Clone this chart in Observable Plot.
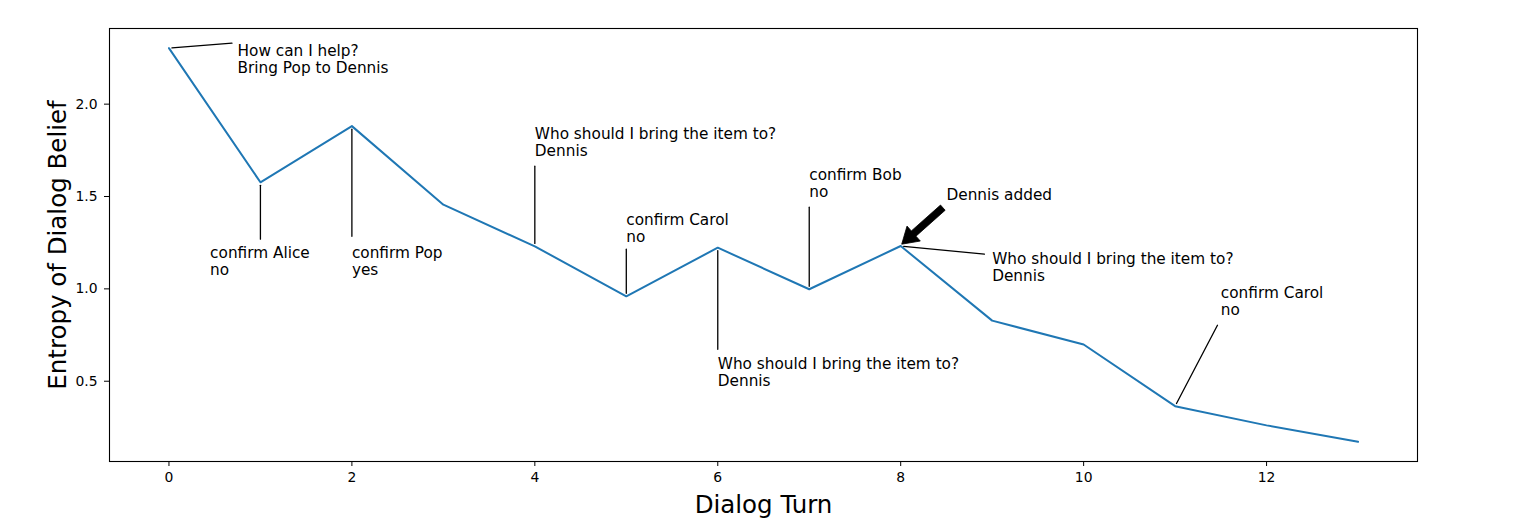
<!DOCTYPE html>
<html>
<head>
<meta charset="utf-8">
<script src="https://cdn.jsdelivr.net/npm/d3@7"></script>
<script src="https://cdn.jsdelivr.net/npm/@observablehq/plot@0.6"></script>
<style>
  html, body { margin: 0; padding: 0; background: #ffffff; }
  #chart { width: 1538px; height: 520px; }
  #chart svg g[aria-label*="axis"] text,
  #chart svg g[aria-label*="tick label"] text,
  #chart svg g[aria-label*="axis"],
  #chart svg g[aria-label*="tick label"] { font-size: 13.9px !important; }
</style>
</head>
<body>
<div id="chart"></div>
<script>
// ---- data ----
const turns   = [0, 1, 2, 3, 4, 5, 6, 7, 8, 9, 10, 11, 12, 13];
const entropy = [2.303, 1.577, 1.881, 1.456, 1.230, 0.960, 1.223, 0.998, 1.232, 0.828, 0.699, 0.365, 0.261, 0.172];

const xTicks = [0, 2, 4, 6, 8, 10, 12];
const yTicks = [0.5, 1.0, 1.5, 2.0];

const xTitle = "Dialog Turn";
const yTitle = "Entropy of Dialog Belief";

// annotations (text anchored at its top-left, in data units)
const noteTurn  = [0, 1, 2, 4, 5, 6, 7, 8, 11];
const noteText  = [
  "How can I help?\nBring Pop to Dennis",
  "confirm Alice\nno",
  "confirm Pop\nyes",
  "Who should I bring the item to?\nDennis",
  "confirm Carol\nno",
  "Who should I bring the item to?\nDennis",
  "confirm Bob\nno",
  "Who should I bring the item to?\nDennis",
  "confirm Carol\nno"
];
const noteTextX = [0.75, 0.45, 2, 4, 5, 6, 7, 9, 11.5];
const noteTextY = [2.326, 1.234, 1.234, 1.876, 1.411, 0.631, 1.654, 1.198, 1.017];
const leaderX   = [0.689, 1.0, 2, 4, 5, 6, 7, 8.915, 11.463];
const leaderY   = [2.330, 1.269, 1.285, 1.664, 1.215, 0.673, 1.442, 1.188, 0.803];

// the bold arrow
const bigArrowLabel = ["Dennis added"];
const bigArrowTurn  = [8];
const bigArrowTextX = [8.5];
const bigArrowTextY = [1.541];
const bigArrowTailX = [8.466];
const bigArrowTailY = [1.437];

// ---- tables built from arrays ----
const series = turns.map((t, i) => ({turn: t, entropy: entropy[i]}));
const notes = noteTurn.map((t, i) => ({
  x: t, y: entropy[turns.indexOf(t)],
  tx: noteTextX[i], ty: noteTextY[i],
  lx: leaderX[i], ly: leaderY[i],
  label: noteText[i]
}));
const bigArrows = bigArrowTurn.map((t, i) => ({
  x: t, y: entropy[turns.indexOf(t)],
  tx: bigArrowTextX[i], ty: bigArrowTextY[i],
  lx: bigArrowTailX[i], ly: bigArrowTailY[i],
  label: bigArrowLabel[i]
}));

const W = 1538, H = 520;
const M = {left: 109, right: 121, top: 28, bottom: 59};
const xDomain = [-0.65, 13.65];
const yMin = d3.min(entropy), yMax = d3.max(entropy);
const yPad = (yMax - yMin) * 0.05;
const yDomain = [yMin - yPad, yMax + yPad];

// fallback scales identical to Plot's (used only if scales are not passed)
const fx = d3.scaleLinear(xDomain, [M.left, W - M.right]);
const fy = d3.scaleLinear(yDomain, [H - M.bottom, M.top]);

function bigArrowMark(index, scales) {
  const sx = (scales && scales.x) || fx;
  const sy = (scales && scales.y) || fy;
  const g = document.createElementNS("http://www.w3.org/2000/svg", "g");
  g.setAttribute("aria-label", "bold arrow");
  for (const a of bigArrows) {
    const X1 = sx(a.lx), Y1 = sy(a.ly);
    let X2 = sx(a.x), Y2 = sy(a.y);
    const dx = X2 - X1, dy = Y2 - Y1;
    const len = Math.hypot(dx, dy);
    const ux = dx / len, uy = dy / len;
    X2 -= ux * 2; Y2 -= uy * 2;
    const nx = -uy, ny = ux;
    const sw = 7, hw = 20, hl = 16;
    const Bx = X2 - ux * hl, By = Y2 - uy * hl;
    const pts = [
      [X1 + nx * sw / 2, Y1 + ny * sw / 2],
      [Bx + nx * sw / 2, By + ny * sw / 2],
      [Bx + nx * hw / 2, By + ny * hw / 2],
      [X2, Y2],
      [Bx - nx * hw / 2, By - ny * hw / 2],
      [Bx - nx * sw / 2, By - ny * sw / 2],
      [X1 - nx * sw / 2, Y1 - ny * sw / 2]
    ];
    const p = document.createElementNS("http://www.w3.org/2000/svg", "polygon");
    p.setAttribute("points", pts.map(d => d.join(",")).join(" "));
    p.setAttribute("fill", "black");
    p.setAttribute("stroke", "black");
    p.setAttribute("stroke-width", "0.8");
    p.setAttribute("stroke-linejoin", "miter");
    g.appendChild(p);
  }
  return g;
}

const chart = Plot.plot({
  width: W,
  height: H,
  marginLeft: M.left,
  marginRight: M.right,
  marginTop: M.top,
  marginBottom: M.bottom,
  style: {
    fontFamily: "'DejaVu Sans', sans-serif",
    fontSize: "13.9px",
    color: "black",
    background: "white",
    overflow: "visible"
  },
  x: {domain: xDomain, ticks: xTicks, tickFormat: d => String(d), tickSize: 5, tickPadding: 6, label: null},
  y: {domain: yDomain, ticks: yTicks, tickFormat: d3.format(".1f"), tickSize: 5, tickPadding: 7, label: null},
  marks: [
    Plot.line(series, {x: "turn", y: "entropy", stroke: "#1f77b4", strokeWidth: 2, strokeLinejoin: "round"}),
    Plot.arrow(notes, {x1: "lx", y1: "ly", x2: "x", y2: "y", stroke: "black", strokeWidth: 1.3, headLength: 0, insetEnd: 3}),
    bigArrowMark,
    Plot.text(notes, {x: "tx", y: "ty", text: "label", textAnchor: "start", lineAnchor: "top", lineHeight: 1.11, fontSize: 15.3, fill: "black"}),
    Plot.text(bigArrows, {x: "tx", y: "ty", text: "label", textAnchor: "start", lineAnchor: "top", fontSize: 15.3, fill: "black"}),
    Plot.text([xTitle], {text: d => d, frameAnchor: "bottom", lineAnchor: "bottom", dy: 51, fontSize: 24.5, fill: "black"}),
    Plot.text([yTitle], {text: d => d, frameAnchor: "left", rotate: -90, lineAnchor: "bottom", textAnchor: "middle", dx: -44, fontSize: 24.5, fill: "black"}),
    Plot.frame({stroke: "black", strokeWidth: 1.1})
  ]
});
document.getElementById("chart").appendChild(chart);
</script>
</body>
</html>
